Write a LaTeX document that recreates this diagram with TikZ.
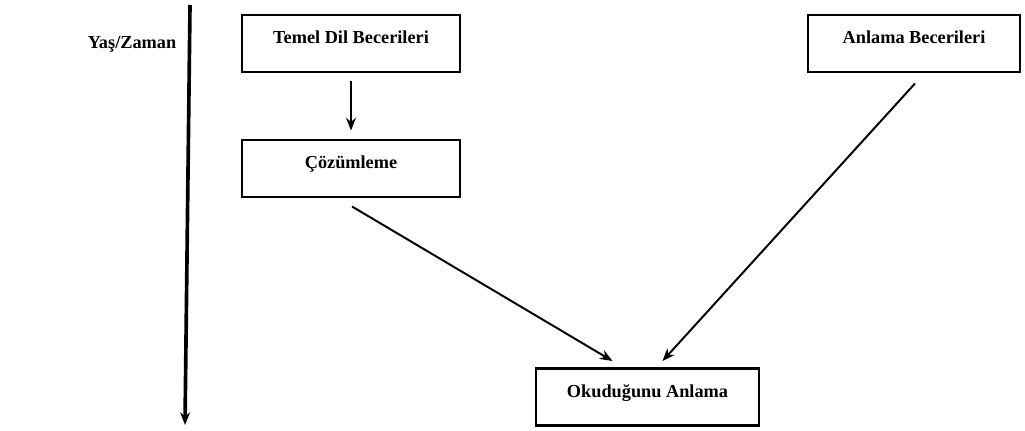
\documentclass[tikz,border=0pt]{standalone}
\usepackage{fontspec}
\setmainfont{Liberation Serif}
\usetikzlibrary{arrows.meta,calc}

\tikzset{
	box/.style={shape=rectangle,draw=black,line width=2.1pt,inner sep=0pt,
		text height=0.72cm,text depth=0.705cm,font=\fontsize{13}{15}\selectfont\bfseries},
	flow/.style={->,line width=1.4pt},
	>={Stealth[length=9pt,width=7pt]}
}

\begin{document}
\begin{tikzpicture}[x=0.025cm,y=-0.025cm]
	\useasboundingbox (0,0) rectangle (1025,431);
	
	\node[box,minimum width=218*0.025cm] (temel) at (351, 43.5)   {Temel Dil Becerileri};
	\node[box,minimum width=218*0.025cm] (coz) at (351, 168.5)    {Çözümleme};
	\node[box,minimum width=212*0.025cm] (anlama) at (914, 43.5)  {Anlama Becerileri};
	\node[box,minimum width=223*0.025cm] (oku) at (647.5, 397)    {Okuduğunu Anlama};
	\node[font=\fontsize{13}{15}\selectfont\bfseries] (yas) at (132, 44) {Yaş/Zaman};
	
	\coordinate (t0) at (190, 5);
	\coordinate (t1) at (185, 425);
	
	\path[->, line width=2.6pt] (t0) edge (t1);
	\path[flow] ($(temel.south)+(0,8)$) edge ($(coz.north)+(0,-8)$);
	\path[flow] ($(coz.south)+(1,8)$) edge ($(oku.north)+(-35,-6)$);
	\path[flow] ($(anlama.south)+(1,10)$) edge ($(oku.north)+(15,-6)$);
	
\end{tikzpicture}
\end{document}
